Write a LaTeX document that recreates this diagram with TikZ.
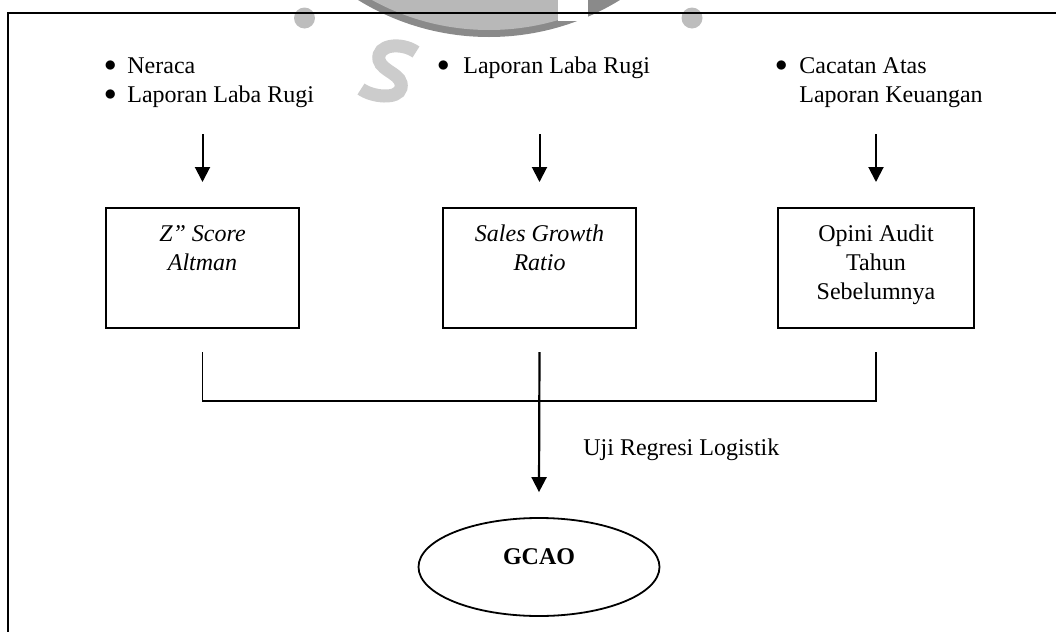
\documentclass[tikz,border=0pt]{standalone}
\usepackage{fontspec}
\setmainfont{Liberation Serif}
\usetikzlibrary{arrows.meta,shapes.geometric,calc}
\newcommand{\bigbul}{\raisebox{1pt}{$\bullet$}}
\begin{document}
\begin{tikzpicture}[x=0.5pt,y=-0.5pt,
  txt/.style={inner sep=0pt, font=\fontsize{12}{14.5}\selectfont},
  box/.style={draw, line width=1pt, rectangle, inner sep=0pt,
    text height=16.5pt, text depth=43.5pt, font=\fontsize{12}{14.5}\selectfont},
  goalstyle/.style={draw, ellipse, line width=0.9pt, inner sep=0pt,
    minimum width=120.5pt, minimum height=49pt, text height=8pt, text depth=11pt,
    font=\fontsize{12}{14.5}\selectfont\bfseries},
  arr/.style={line width=1pt, -{Triangle[length=7.5pt,width=7.5pt]}},
  link/.style={line width=0.8pt},
  wmdot/.style={fill=black!26},
]
\useasboundingbox (0,0) rectangle (1056,632);
% watermark
\fill[wmdot] (304.5,18) circle[radius=10.5];
\fill[wmdot] (692,18) circle[radius=10.5];
\fill[black!46] (489,-213) circle[radius=250];
\begin{scope}
  \clip (0,0) rectangle (558,45);
  \fill[black!28] (489,-213) circle[radius=243];
\end{scope}
\fill[white] (558,0) rectangle (588,21);
\draw[black!20, line width=6.5pt] (416,52) .. controls (402,42) and (376,44) .. (379,60)
  .. controls (382,72) and (404,74) .. (401,88) .. controls (398,100) and (372,97) .. (361,89);
% frame
\draw[line width=1pt] (1056,13) -- (8,13) -- (8,632);
% sources
\node[txt, anchor=base west] (src1) at (104,73.5)
  {\begin{tabular}[t]{@{}l@{\hspace{5.5pt}}l@{}}\bigbul & Neraca\\ \bigbul & Laporan Laba Rugi\end{tabular}};
\node[txt, anchor=base west] (src2) at (437,73.5)
  {\begin{tabular}[t]{@{}l@{\hspace{7pt}}l@{}}\bigbul & Laporan Laba Rugi\end{tabular}};
\node[txt, anchor=base west] (src3) at (775,73.5)
  {\begin{tabular}[t]{@{}l@{\hspace{6pt}}l@{}}\bigbul & Cacatan Atas\\ & Laporan Keuangan\end{tabular}};
% boxes
\node[box, minimum width=96.5pt, anchor=north] (box1) at (202.5,207)
  {\begin{tabular}[t]{@{}c@{}}\textit{Z\textquotedblright{} Score}\\ \textit{Altman}\end{tabular}};
\node[box, minimum width=96.5pt, anchor=north] (box2) at (539.5,207)
  {\begin{tabular}[t]{@{}c@{}}\textit{Sales Growth}\\ \textit{Ratio}\end{tabular}};
\node[box, minimum width=98pt, anchor=north] (box3) at (876,207)
  {\begin{tabular}[t]{@{}c@{}}Opini Audit\\ Tahun\\ Sebelumnya\end{tabular}};
% goal
\node[goalstyle] (goal) at (539,567) {GCAO};
\node[txt, anchor=base west] (test) at (583,455.5) {Uji Regresi Logistik};
% arrows from sources to boxes
\coordinate (a1) at ([yshift=36.5pt]box1.north);
\coordinate (a2) at ([yshift=36.5pt]box2.north);
\coordinate (a3) at ([yshift=36.5pt]box3.north);
\draw[arr] (a1) -- ([yshift=12.5pt]box1.north);
\draw[arr] (a2) -- ([yshift=12.5pt]box2.north);
\draw[arr] (a3) -- ([yshift=12.5pt]box3.north);
% bracket
\coordinate (b1) at ([yshift=-11.5pt]box1.south);
\coordinate (b2) at ([yshift=-11.5pt]box2.south);
\coordinate (b3) at ([yshift=-11.5pt]box3.south);
\draw[link] (b1) -- ++(0,49) -| (b3);
\draw[arr, line width=1.1pt] (b2) -- ([yshift=12.5pt]goal.north);
\end{tikzpicture}
\end{document}
